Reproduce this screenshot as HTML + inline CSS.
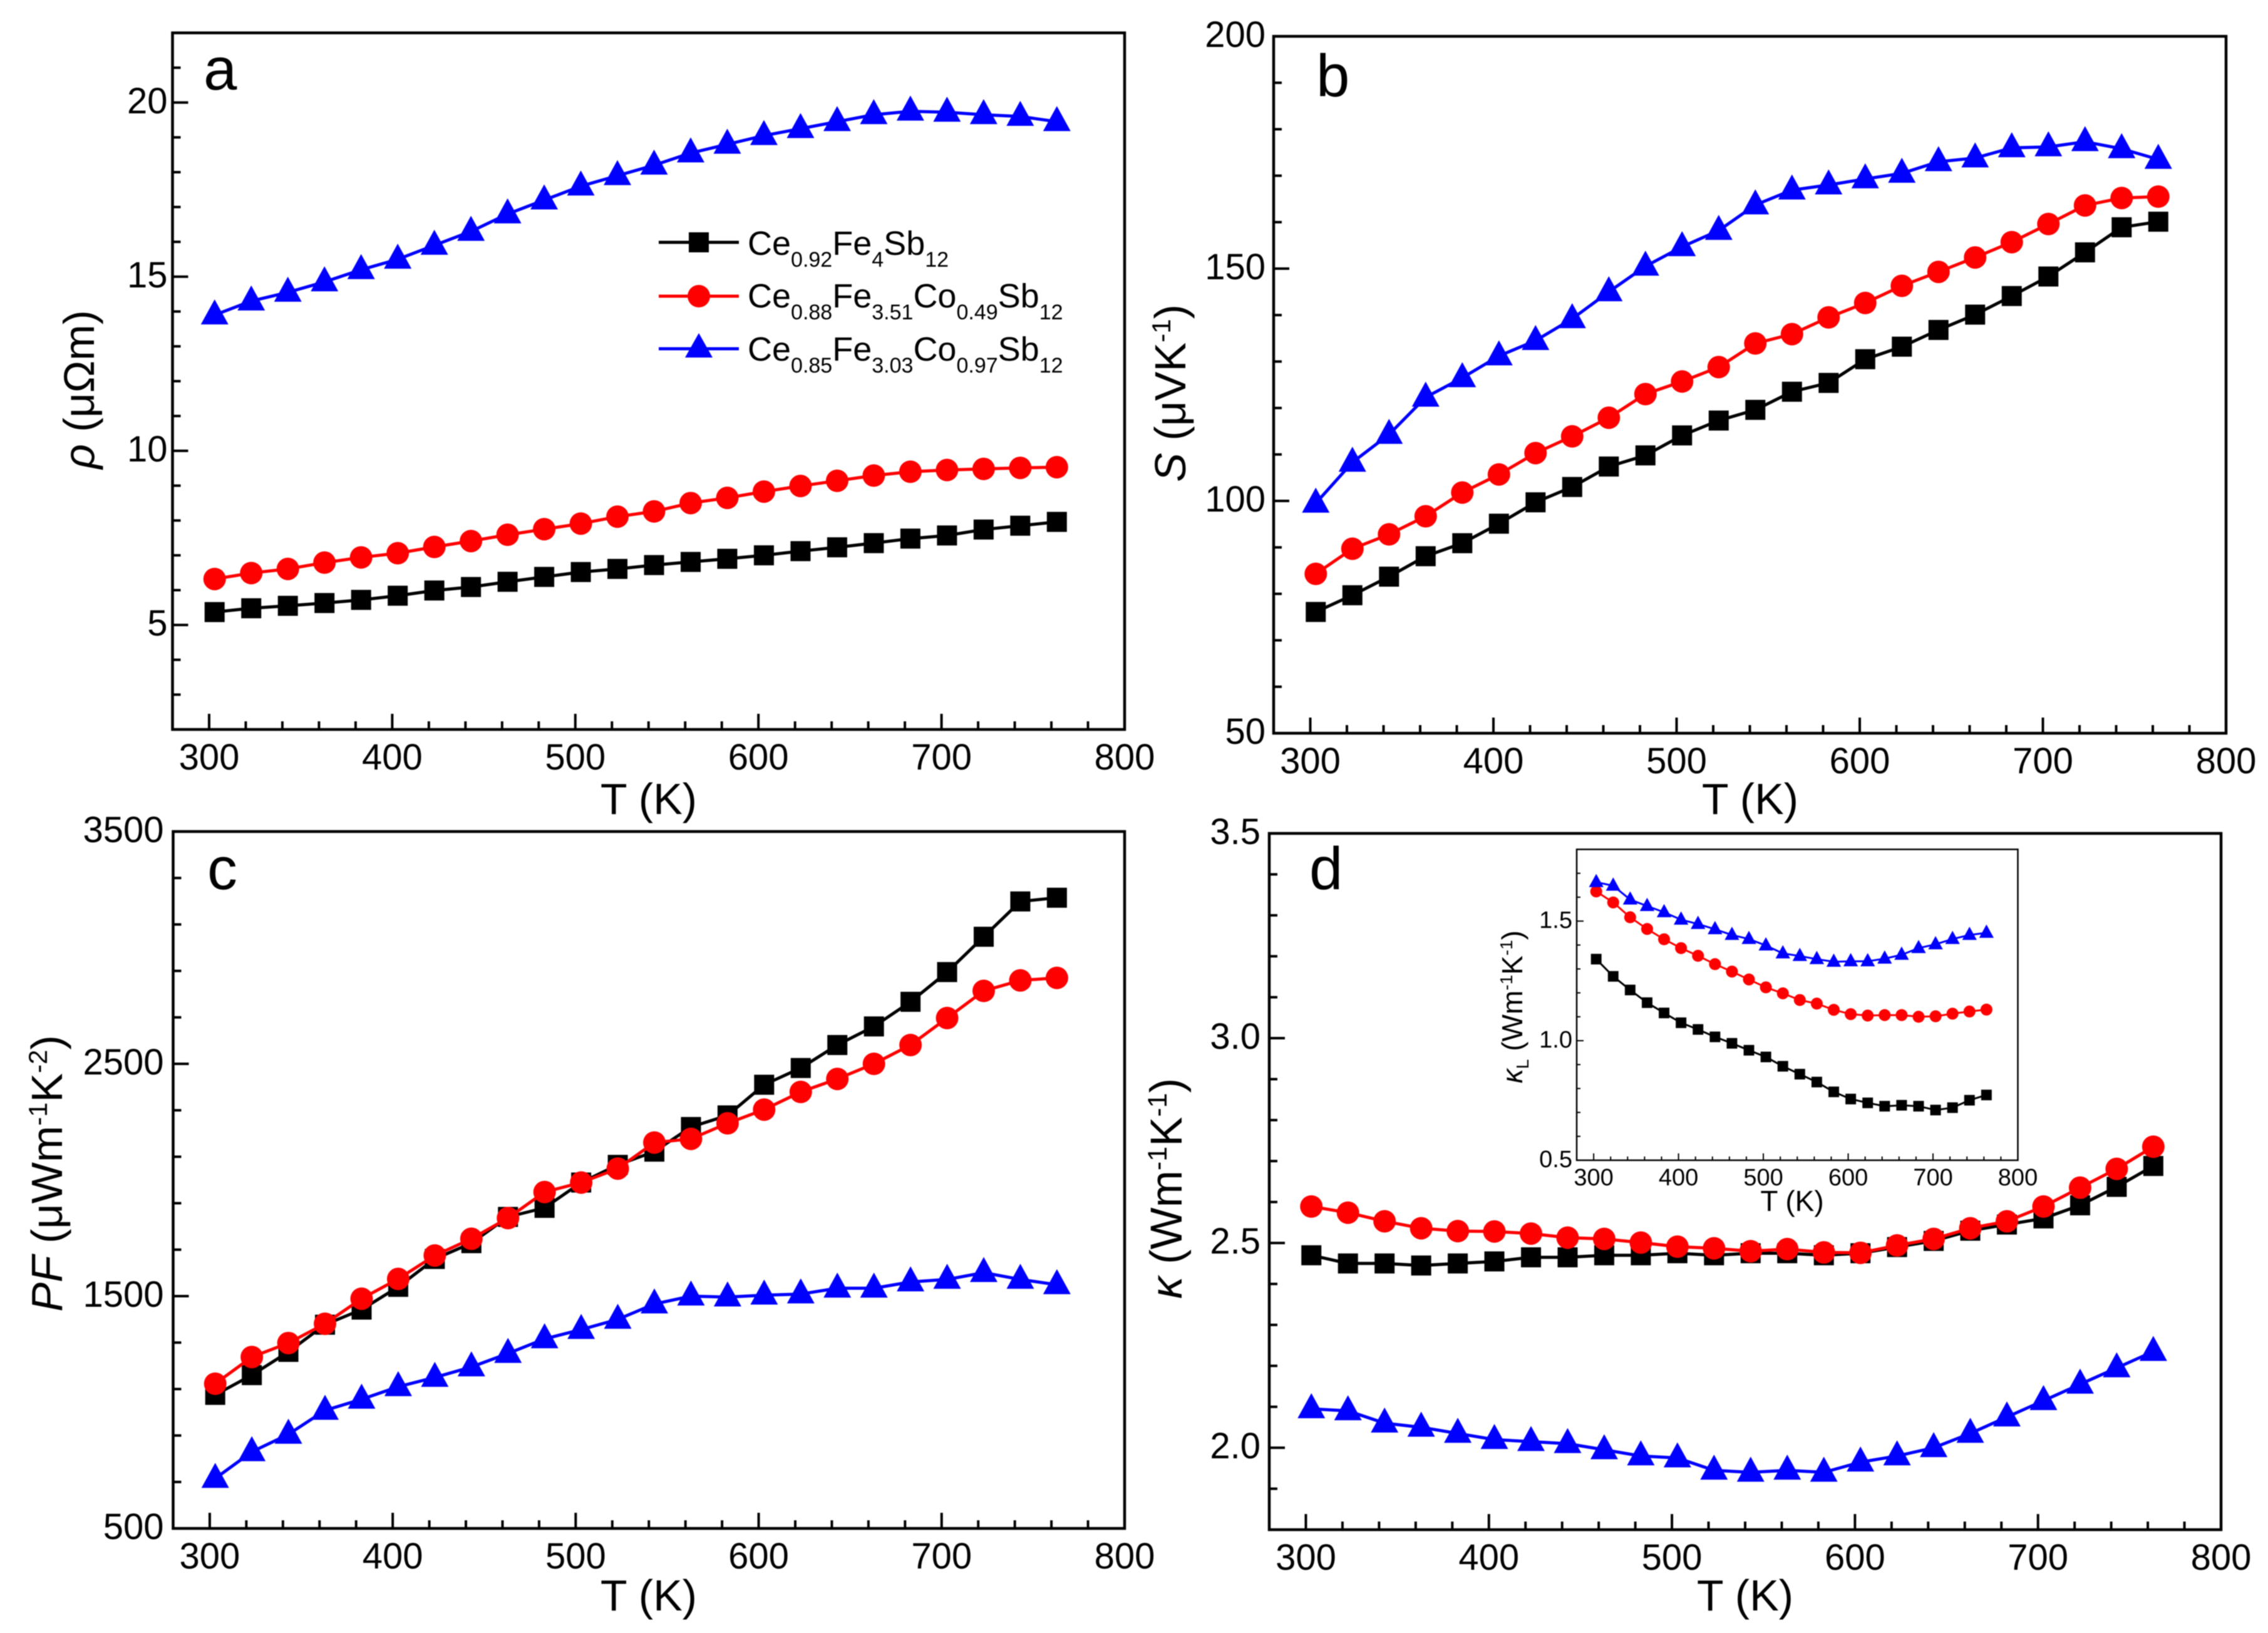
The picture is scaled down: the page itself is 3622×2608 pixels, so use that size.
<!DOCTYPE html>
<html lang="en">
<head>
<meta charset="utf-8">
<title>Thermoelectric properties of Ce-filled skutterudites</title>
<style>
html,body{margin:0;padding:0;background:#fff;}
svg{display:block;filter:blur(0.7px);}
text{font-family:"Liberation Sans","DejaVu Sans",sans-serif;fill:#000;}
</style>
</head>
<body>
<svg id="figure" xmlns="http://www.w3.org/2000/svg" width="3622" height="2608" viewBox="0 0 3622 2608">
  <rect x="0" y="0" width="3622" height="2608" fill="#fff"/>
  <g id="panel-a"></g>
  <g id="panel-b"></g>
  <g id="panel-c"></g>
  <g id="panel-d"></g>
  <g id="panel-inset"></g>

  <text transform="translate(150,622) rotate(-90)" text-anchor="middle" font-size="69"><tspan font-style="italic">ρ</tspan> (μΩm)</text>
  <text transform="translate(1893,628) rotate(-90)" text-anchor="middle" font-size="70"><tspan font-style="italic">S</tspan> (μVK<tspan font-size="42" dy="-24">-1</tspan><tspan dy="24">)</tspan></text>
  <text transform="translate(99,1874) rotate(-90)" text-anchor="middle" font-size="70"><tspan font-style="italic">PF</tspan> (μWm<tspan font-size="42" dy="-24">-1</tspan><tspan dy="24">K</tspan><tspan font-size="42" dy="-24">-2</tspan><tspan dy="24">)</tspan></text>
  <text transform="translate(1887,1898) rotate(-90)" text-anchor="middle" font-size="71"><tspan font-style="italic">κ</tspan> (Wm<tspan font-size="43" dy="-24">-1</tspan><tspan dy="24">K</tspan><tspan font-size="43" dy="-24">-1</tspan><tspan dy="24">)</tspan></text>
  <text transform="translate(2431,1608) rotate(-90)" text-anchor="middle" font-size="46"><tspan font-style="italic">κ</tspan><tspan font-size="28" dy="10">L</tspan><tspan dy="-10"> (Wm</tspan><tspan font-size="28" dy="-16">-1</tspan><tspan dy="16">K</tspan><tspan font-size="28" dy="-16">-1</tspan><tspan dy="16">)</tspan></text>

  <text x="325" y="143" font-size="96">a</text>
  <text x="2102" y="154" font-size="96">b</text>
  <text x="331" y="1420" font-size="96">c</text>
  <text x="2091" y="1420" font-size="96">d</text>

  <g id="legend">
    <g>
      <line x1="1052" x2="1180" y1="387" y2="387" stroke="#000" stroke-width="5"/>
      <rect x="1100" y="371" width="32" height="32" fill="#000"/>
      <text x="1194" y="407" font-size="54">Ce<tspan font-size="34" dy="19">0.92</tspan><tspan dy="-19">Fe</tspan><tspan font-size="34" dy="19">4</tspan><tspan dy="-19">Sb</tspan><tspan font-size="34" dy="19">12</tspan></text>
    </g>
    <g>
      <line x1="1052" x2="1180" y1="473" y2="473" stroke="#f00" stroke-width="5"/>
      <ellipse cx="1116" cy="473" rx="18" ry="18" fill="#f00"/>
      <text x="1194" y="491" font-size="54">Ce<tspan font-size="34" dy="19">0.88</tspan><tspan dy="-19">Fe</tspan><tspan font-size="34" dy="19">3.51</tspan><tspan dy="-19">Co</tspan><tspan font-size="34" dy="19">0.49</tspan><tspan dy="-19">Sb</tspan><tspan font-size="34" dy="19">12</tspan></text>
    </g>
    <g>
      <line x1="1052" x2="1180" y1="557" y2="557" stroke="#00f" stroke-width="5"/>
      <polygon points="1116,532 1138,571 1094,571" fill="#00f"/>
      <text x="1194" y="576" font-size="54">Ce<tspan font-size="34" dy="19">0.85</tspan><tspan dy="-19">Fe</tspan><tspan font-size="34" dy="19">3.03</tspan><tspan dy="-19">Co</tspan><tspan font-size="34" dy="19">0.97</tspan><tspan dy="-19">Sb</tspan><tspan font-size="34" dy="19">12</tspan></text>
    </g>
  </g>
</svg>
<script>
// ---- shared x data ----
const temperatureK = [303,323,343,363,383,403,423,443,463,483,503,523,543,563,583,603,623,643,663,683,703,723,743,763];
const xTickLabels = ['300','400','500','600','700','800'];

// ---- panel a: resistivity ----
const rhoTickLabels = ['5','10','15','20'];
const rhoBlack = [5.37,5.48,5.55,5.63,5.72,5.84,5.99,6.09,6.24,6.38,6.52,6.61,6.72,6.81,6.90,7.00,7.12,7.23,7.35,7.48,7.57,7.74,7.85,7.96];
const rhoRed = [6.32,6.49,6.61,6.79,6.94,7.06,7.24,7.41,7.59,7.75,7.91,8.11,8.26,8.50,8.65,8.83,8.99,9.14,9.29,9.40,9.45,9.48,9.51,9.53];
const rhoBlue = [13.9,14.3,14.55,14.85,15.2,15.5,15.9,16.3,16.8,17.2,17.6,17.9,18.2,18.55,18.8,19.05,19.25,19.45,19.65,19.75,19.72,19.65,19.6,19.45];

// ---- panel b: Seebeck ----
const seebeckTickLabels = ['50','100','150','200'];
const seebeckBlack = [76.1,79.7,83.7,88.1,90.9,95.1,99.7,103,107.4,109.8,114.1,117.3,119.6,123.5,125.4,130.5,133.2,136.8,140.1,144.1,148.3,153.5,158.9,160.1];
const seebeckRed = [84.3,89.7,92.8,96.7,101.8,105.7,110.3,113.9,117.9,123,125.7,128.8,133.9,135.9,139.5,142.6,146.3,149.3,152.4,155.7,159.6,163.6,165.2,165.5];
const seebeckBlue = [99.5,108.3,114.3,122.3,126.5,131.2,134.5,139.2,145,150.5,154.7,158.2,163.7,166.9,168,169.3,170.5,173,173.8,176,176.2,177.3,175.8,173.5];

// ---- panel c: power factor ----
const pfTickLabels = ['500','1500','2500','3500'];
const pfBlack = [1075,1160,1260,1377,1442,1540,1660,1728,1841,1880,1989,2065,2122,2228,2278,2410,2482,2581,2661,2767,2895,3047,3199,3215];
const pfRed = [1123,1238,1298,1381,1489,1574,1675,1747,1836,1948,1989,2049,2161,2177,2244,2303,2379,2435,2500,2581,2697,2814,2859,2870];
const pfBlue = [715,830,905,1008,1056,1110,1150,1195,1253,1316,1356,1400,1466,1500,1496,1504,1509,1534,1534,1561,1572,1601,1572,1549];

// ---- panel d: thermal conductivity ----
const kappaTickLabels = ['2.0','2.5','3.0','3.5'];
const kappaBlack = [2.47,2.45,2.45,2.445,2.45,2.455,2.465,2.465,2.47,2.47,2.475,2.47,2.475,2.475,2.47,2.475,2.49,2.505,2.53,2.545,2.56,2.592,2.637,2.688];
const kappaRed = [2.589,2.574,2.553,2.536,2.529,2.528,2.523,2.513,2.51,2.501,2.491,2.487,2.48,2.485,2.477,2.476,2.494,2.51,2.536,2.553,2.589,2.635,2.681,2.735];
const kappaBlue = [2.095,2.09,2.06,2.05,2.035,2.02,2.015,2.01,1.995,1.98,1.975,1.945,1.94,1.945,1.94,1.965,1.98,2.0,2.035,2.075,2.115,2.155,2.195,2.235];

// ---- inset: lattice thermal conductivity ----
const insetTickLabels = ['0.5','1.0','1.5'];
const latticeBlack = [1.341,1.269,1.212,1.159,1.116,1.075,1.047,1.016,0.989,0.96,0.932,0.893,0.86,0.827,0.786,0.756,0.74,0.726,0.73,0.726,0.71,0.72,0.751,0.773];
const latticeRed = [1.624,1.578,1.516,1.467,1.424,1.387,1.355,1.32,1.289,1.256,1.223,1.198,1.17,1.155,1.129,1.111,1.105,1.107,1.107,1.1,1.102,1.113,1.122,1.13];
const latticeBlue = [1.663,1.648,1.59,1.563,1.537,1.506,1.488,1.466,1.442,1.425,1.398,1.365,1.354,1.341,1.33,1.332,1.332,1.343,1.359,1.387,1.403,1.425,1.442,1.451];

const NS = 'http://www.w3.org/2000/svg';
function make(tag, attrs, parent){
  const el = document.createElementNS(NS, tag);
  for (const k in attrs) el.setAttribute(k, attrs[k]);
  parent.appendChild(el);
  return el;
}

function drawPanel(cfg){
  const root = document.getElementById(cfg.id);
  const p = cfg.id.replace('panel-', '');
  const sx = v => cfg.left + (v - cfg.xMin) / (cfg.xMax - cfg.xMin) * (cfg.right - cfg.left);
  const sy = v => cfg.bottom - (v - cfg.yMin) / (cfg.yMax - cfg.yMin) * (cfg.bottom - cfg.top);

  // x ticks
  for (let i = 1; (cfg.xMin + i * cfg.xMinor) < cfg.xMax; i++) {
    const v = cfg.xMin + i * cfg.xMinor;
    const isMajor = Math.abs(v % 100) < 1e-6;
    const tick = make('line', {x1:sx(v), x2:sx(v), y1:cfg.bottom, y2:cfg.bottom - (isMajor ? cfg.majorLen : cfg.minorLen), stroke:'#000', 'stroke-width':cfg.tickWidth}, root);
    
    
  }
  xTickLabels.forEach(lbl => {
    const t = make('text', {x:sx(Number(lbl)), y:cfg.bottom + cfg.xLabelGap, 'text-anchor':'middle', 'font-size':cfg.tickFont}, root);
    
    
    t.textContent = lbl;
  });

  // y ticks
  const n = Math.round((cfg.yMax - cfg.yMin) / cfg.yMinor);
  const majors = cfg.yLabels.map(Number);
  for (let i = 1; i < n; i++) {
    const v = cfg.yMin + i * cfg.yMinor;
    const isMajor = majors.some(m => Math.abs(m - v) < 1e-6);
    const tick = make('line', {x1:cfg.left, x2:cfg.left + (isMajor ? cfg.majorLen : cfg.minorLen), y1:sy(v), y2:sy(v), stroke:'#000', 'stroke-width':cfg.tickWidth}, root);
    
    
  }
  cfg.yLabels.forEach(lbl => {
    const t = make('text', {x:cfg.left - cfg.yLabelGap, y:sy(Number(lbl)) + cfg.yLabelShift, 'text-anchor':'end', 'font-size':cfg.tickFont}, root);
    
    
    t.textContent = lbl;
  });

  // frame
  const frame = make('rect', {x:cfg.left, y:cfg.top, width:cfg.right - cfg.left, height:cfg.bottom - cfg.top, fill:'none', stroke:'#000', 'stroke-width':cfg.frameWidth}, root);
  
  

  // x title
  const xt = make('text', {x:cfg.xTitleX, y:cfg.xTitleY, 'text-anchor':'middle', 'font-size':cfg.titleFont}, root);
  
  
  xt.textContent = 'T (K)';

  // series
  const m = cfg.markerScale;
  const series = [
    {key:'black', color:'#000', values:cfg.black, shape:'square'},
    {key:'red', color:'#f00', values:cfg.red, shape:'circle'},
    {key:'blue', color:'#00f', values:cfg.blue, shape:'triangle'}
  ];
  series.forEach(s => {
    const g = make('g', {}, root);
    
    
    const pts = s.values.map((v, i) => sx(temperatureK[i]).toFixed(1) + ',' + sy(v).toFixed(1)).join(' ');
    const line = make('polyline', {points:pts, fill:'none', stroke:s.color, 'stroke-width':cfg.lineWidth, 'stroke-linejoin':'round'}, g);
    
    
    s.values.forEach((v, i) => {
      const cx = sx(temperatureK[i]);
      const cy = sy(v);
      let mark;
      if (s.shape === 'square') {
        mark = make('rect', {x:cx - 16 * m, y:cy - 16 * m, width:32 * m, height:32 * m, fill:s.color}, g);
      } else if (s.shape === 'circle') {
        mark = make('circle', {cx:cx, cy:cy, r:18 * m, fill:s.color}, g);
      } else {
        const tri = [cx + ',' + (cy - 25 * m), (cx + 22 * m) + ',' + (cy + 15 * m), (cx - 22 * m) + ',' + (cy + 15 * m)].join(' ');
        mark = make('polygon', {points:tri, fill:s.color}, g);
      }
      
      
    });
  });
}

const mainStyle = {xMin:280, xMax:800, xMinor:20, majorLen:25, minorLen:13, tickWidth:4, frameWidth:4.5, lineWidth:5, tickFont:58, titleFont:70, xLabelGap:64, yLabelShift:17, markerScale:1};

drawPanel(Object.assign({}, mainStyle, {id:'panel-a', left:275.5, right:1796, top:52.5, bottom:1165, yMin:2, yMax:22, yMinor:1, yLabels:rhoTickLabels, yLabelGap:8, xTitleX:1036, xTitleY:1300, black:rhoBlack, red:rhoRed, blue:rhoBlue}));
drawPanel(Object.assign({}, mainStyle, {id:'panel-b', left:2034, right:3555, top:58, bottom:1171, yMin:50, yMax:200, yMinor:10, yLabels:seebeckTickLabels, yLabelGap:13, xTitleX:2795, xTitleY:1300, black:seebeckBlack, red:seebeckRed, blue:seebeckBlue}));
drawPanel(Object.assign({}, mainStyle, {id:'panel-c', left:276.5, right:1796, top:1328, bottom:2441, yMin:500, yMax:3500, yMinor:200, yLabels:pfTickLabels, yLabelGap:15, xTitleX:1036, xTitleY:2572, black:pfBlack, red:pfRed, blue:pfBlue}));
drawPanel(Object.assign({}, mainStyle, {id:'panel-d', left:2027, right:3547, top:1331, bottom:2443, yMin:1.8, yMax:3.5, yMinor:0.1, yLabels:kappaTickLabels, yLabelGap:14, xTitleX:2787, xTitleY:2572, black:kappaBlack, red:kappaRed, blue:kappaBlue}));
drawPanel({id:'panel-inset', left:2518, right:3222.5, top:1356.5, bottom:1853, xMin:280, xMax:800, xMinor:20, yMin:0.5, yMax:1.8, yMinor:0.1, yLabels:insetTickLabels, majorLen:11, minorLen:6, tickWidth:2, frameWidth:2.5, lineWidth:3, tickFont:38, titleFont:46, xLabelGap:40, yLabelGap:7, yLabelShift:11, xTitleX:2862, xTitleY:1934, black:latticeBlack, red:latticeRed, blue:latticeBlue, markerScale:0.53});
</script>
</body>
</html>
